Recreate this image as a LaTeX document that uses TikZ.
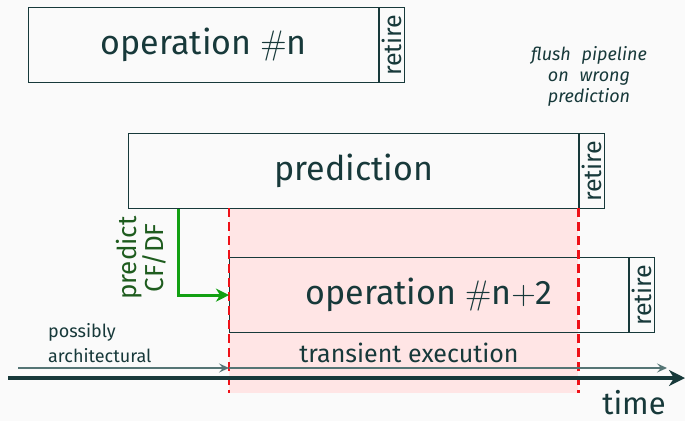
\RequirePackage{fix-cm}
\documentclass[tikz,border=0pt]{standalone}
\usepackage[no-math]{fontspec}
\setmainfont{Fira Sans}
\usetikzlibrary{arrows.meta,calc}
\definecolor{tealdk}{HTML}{17393A}
\definecolor{tealmid}{HTML}{557575}
\definecolor{pinkbg}{HTML}{FFE5E5}
\definecolor{redln}{HTML}{EE1118}
\definecolor{grn}{HTML}{12A012}
\definecolor{grntxt}{HTML}{1E5C1E}
\definecolor{pagebg}{HTML}{FAFAFA}
\tikzset{
  opbox/.style={draw=tealdk, line width=1.2pt, minimum height=75pt, inner sep=0pt,
    anchor=north west, text=tealdk, font=\fontsize{34}{40}\selectfont},
  retirebox/.style={draw=tealdk, line width=1.2pt, minimum width=25pt, minimum height=75pt,
    inner sep=0pt, anchor=north west, text=tealdk},
  retiretxt/.style={rotate=90, text=tealdk, font=\fontsize{25}{28}\selectfont, inner sep=0pt},
  reddash/.style={draw=redln, line width=2.6pt, dash pattern=on 9pt off 5pt},
  thinarrow/.style={draw=tealmid, line width=1.6pt, -{Stealth[length=10pt,width=9pt,inset=4pt]}},
  lbl/.style={text=tealdk, inner sep=0pt},
}
\begin{document}
\begin{tikzpicture}[x=1pt,y=-1pt]
\fill[pagebg] (0,0) rectangle (685,421);
\useasboundingbox (0,0) rectangle (685,421);
% transient region
\node[fill=pinkbg, inner sep=0pt, minimum width=349pt, minimum height=185pt, anchor=north west] (trans) at (229,208) {};
% boxes
\node[opbox, minimum width=350pt] (op1) at (28,7) {operation $\#$n};
\node[retirebox] (r1) at (op1.north east) {};
\node[retiretxt] at (r1.center) {retire};
\node[opbox, minimum width=450pt] (op2) at (128,133) {prediction};
\node[retirebox] (r2) at (op2.north east) {};
\node[retiretxt] at (r2.center) {retire};
\node[opbox, minimum width=399pt] (op3) at (229,257) {operation $\#$n$+$2};
\node[retirebox] (r3) at (op3.north east) {};
\node[retiretxt] at (r3.center) {retire};
% red dashed boundaries
\draw[reddash] (trans.north west) -- (trans.south west);
\draw[reddash] (trans.north east) -- (trans.south east);
% green prediction arrow
\draw[draw=grn, line width=3pt, -{Stealth[length=13pt,width=13pt,inset=4pt]}]
  ([xshift=50pt]op2.south west) |- (op3.west);
\node[rotate=90, text=grntxt, align=center, font=\fontsize{26}{27}\selectfont, inner sep=0pt] (pred) at (141,258) {predict\\CF/DF};
% time axis
\coordinate (t0) at (8,378);
\coordinate (t1) at (685,378);
\draw[draw=tealdk, line width=4pt, -{Stealth[length=16pt,width=16pt,inset=5pt]}] (t0) -- (t1);
\coordinate (a0) at (18,368);
\coordinate (a1) at (229,368);
\coordinate (a2) at (667,368);
\draw[thinarrow] (a0) -- (a1);
\draw[thinarrow] (a1) -- (a2);
% labels
\node[lbl, anchor=base west, font=\fontsize{18}{22}\selectfont] (pa) at (48,337) {possibly};
\node[lbl, anchor=base west, font=\fontsize{18}{22}\selectfont] (pb) at (48,362) {architectural};
\node[lbl, anchor=base, font=\fontsize{25}{28}\selectfont] (te) at (409,362) {transient execution};
\node[lbl, anchor=base, font=\fontsize{31}{34}\selectfont] (time) at (634,414) {time};
\node[lbl, align=center, font=\itshape\fontsize{18}{21}\selectfont, anchor=north] (flush) at (589,46)
  {flush\hspace{0.6em}pipeline\\on\hspace{0.6em}wrong\\prediction};
\end{tikzpicture}
\end{document}
